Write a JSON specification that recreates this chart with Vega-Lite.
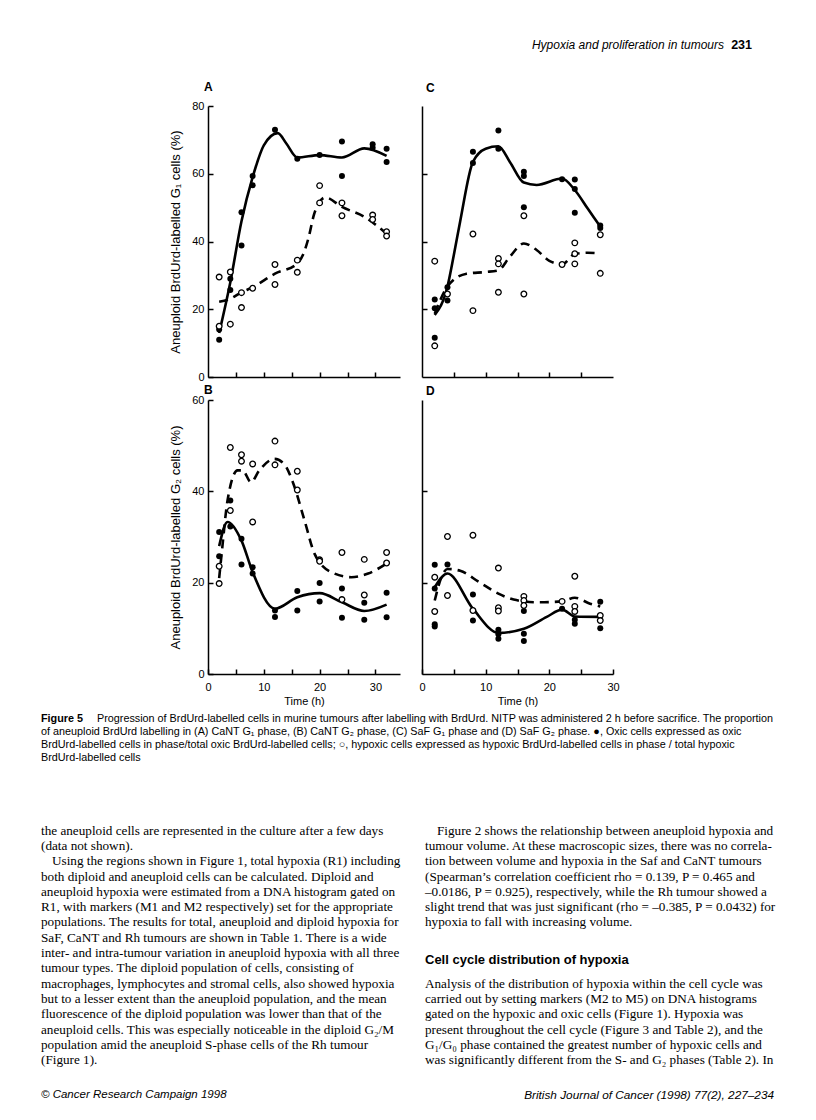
{
  "$schema": "https://vega.github.io/schema/vega-lite/v6.json",
  "background": "white",
  "padding": {"left": 41, "top": 0, "right": 0, "bottom": 0},
  "bounds": "flush",
  "align": "each",
  "columns": 3,
  "spacing": {"row": 0, "column": 22},
  "config": {
    "view": {"stroke": null},
    "font": "Liberation Sans",
    "axis": {
      "domainColor": "black", "tickColor": "black", "labelColor": "black", "titleColor": "black",
      "grid": false, "labelFont": "Liberation Sans", "titleFont": "Liberation Sans",
      "labelFontSize": 11, "titleFontSize": 13, "titleFontWeight": "normal",
      "tickSize": -5, "domainWidth": 1.5, "tickWidth": 1.5, "labelFlush": false
    },
    "axisX": {"labelPadding": 12, "titlePadding": 3, "titleFontSize": 11},
    "axisY": {"labelPadding": 9, "titlePadding": 9},
    "title": {"font": "Liberation Sans", "fontSize": 12, "fontWeight": "bold", "anchor": "start", "frame": "group", "color": "black", "baseline": "bottom", "offset": 6}
  },
  "datasets": {
    "pts": [
      {"p":"A","g":"ox","t":2,"v":11},{"p":"A","g":"ox","t":2,"v":14},{"p":"A","g":"ox","t":4,"v":29},{"p":"A","g":"ox","t":4,"v":25.7},
      {"p":"A","g":"ox","t":6,"v":48.6},{"p":"A","g":"ox","t":6,"v":38.8},{"p":"A","g":"ox","t":8,"v":59.3},{"p":"A","g":"ox","t":8,"v":56.6},
      {"p":"A","g":"ox","t":12,"v":73},{"p":"A","g":"ox","t":16,"v":64.4},{"p":"A","g":"ox","t":20,"v":65.5},{"p":"A","g":"ox","t":24,"v":69.5},
      {"p":"A","g":"ox","t":24,"v":59.3},{"p":"A","g":"ox","t":29.5,"v":68.7},{"p":"A","g":"ox","t":29.5,"v":67.7},{"p":"A","g":"ox","t":32,"v":67.4},
      {"p":"A","g":"ox","t":32,"v":63.5},
      {"p":"A","g":"hy","t":2,"v":15},{"p":"A","g":"hy","t":2,"v":29.5},{"p":"A","g":"hy","t":4,"v":31},{"p":"A","g":"hy","t":4,"v":15.6},
      {"p":"A","g":"hy","t":6,"v":24.9},{"p":"A","g":"hy","t":6,"v":20.5},{"p":"A","g":"hy","t":8,"v":26.2},{"p":"A","g":"hy","t":12,"v":33.2},
      {"p":"A","g":"hy","t":12,"v":27.3},{"p":"A","g":"hy","t":16,"v":34.5},{"p":"A","g":"hy","t":16,"v":30.9},{"p":"A","g":"hy","t":20,"v":56.5},
      {"p":"A","g":"hy","t":20,"v":51.4},{"p":"A","g":"hy","t":24,"v":51.4},{"p":"A","g":"hy","t":24,"v":47.6},{"p":"A","g":"hy","t":29.5,"v":47.8},
      {"p":"A","g":"hy","t":29.5,"v":46.5},{"p":"A","g":"hy","t":32,"v":42.9},{"p":"A","g":"hy","t":32,"v":41.6},

      {"p":"C","g":"ox","t":2,"v":22.9},{"p":"C","g":"ox","t":2,"v":20.3},{"p":"C","g":"ox","t":2,"v":11.6},{"p":"C","g":"ox","t":4,"v":26.5},
      {"p":"C","g":"ox","t":4,"v":22.6},{"p":"C","g":"ox","t":8,"v":66.5},{"p":"C","g":"ox","t":8,"v":63.2},{"p":"C","g":"ox","t":12,"v":72.8},
      {"p":"C","g":"ox","t":12,"v":67.4},{"p":"C","g":"ox","t":16,"v":60.6},{"p":"C","g":"ox","t":16,"v":59.3},{"p":"C","g":"ox","t":16,"v":50.1},
      {"p":"C","g":"ox","t":22,"v":58.4},{"p":"C","g":"ox","t":24,"v":58.3},{"p":"C","g":"ox","t":24,"v":55.5},{"p":"C","g":"ox","t":24,"v":48.5},
      {"p":"C","g":"ox","t":28,"v":44.7},{"p":"C","g":"ox","t":28,"v":44},
      {"p":"C","g":"hy","t":2,"v":34.2},{"p":"C","g":"hy","t":2,"v":9.2},{"p":"C","g":"hy","t":4,"v":24.5},{"p":"C","g":"hy","t":8,"v":42.2},
      {"p":"C","g":"hy","t":8,"v":19.6},{"p":"C","g":"hy","t":12,"v":35},{"p":"C","g":"hy","t":12,"v":33.4},{"p":"C","g":"hy","t":12,"v":25},
      {"p":"C","g":"hy","t":16,"v":47.6},{"p":"C","g":"hy","t":16,"v":24.5},{"p":"C","g":"hy","t":22,"v":33.2},{"p":"C","g":"hy","t":24,"v":39.6},
      {"p":"C","g":"hy","t":24,"v":36.4},{"p":"C","g":"hy","t":24,"v":33.4},{"p":"C","g":"hy","t":28,"v":42},{"p":"C","g":"hy","t":28,"v":30.6},

      {"p":"B","g":"ox","t":2,"v":31.1},{"p":"B","g":"ox","t":2,"v":25.8},{"p":"B","g":"ox","t":4,"v":38},{"p":"B","g":"ox","t":4,"v":32.3},
      {"p":"B","g":"ox","t":6,"v":29.6},{"p":"B","g":"ox","t":6,"v":24},{"p":"B","g":"ox","t":8,"v":23.4},{"p":"B","g":"ox","t":8,"v":22},
      {"p":"B","g":"ox","t":12,"v":13.9},{"p":"B","g":"ox","t":12,"v":12.5},{"p":"B","g":"ox","t":16,"v":18.2},{"p":"B","g":"ox","t":16,"v":13.9},
      {"p":"B","g":"ox","t":20,"v":19.9},{"p":"B","g":"ox","t":20,"v":15.9},{"p":"B","g":"ox","t":24,"v":18.7},{"p":"B","g":"ox","t":24,"v":12.3},
      {"p":"B","g":"ox","t":28,"v":15.6},{"p":"B","g":"ox","t":28,"v":11.9},{"p":"B","g":"ox","t":32,"v":17.8},{"p":"B","g":"ox","t":32,"v":12.4},
      {"p":"B","g":"hy","t":2,"v":23.6},{"p":"B","g":"hy","t":2,"v":19.8},{"p":"B","g":"hy","t":4,"v":49.6},{"p":"B","g":"hy","t":4,"v":35.8},
      {"p":"B","g":"hy","t":6,"v":48},{"p":"B","g":"hy","t":6,"v":46.6},{"p":"B","g":"hy","t":8,"v":46},{"p":"B","g":"hy","t":8,"v":33.3},
      {"p":"B","g":"hy","t":12,"v":51},{"p":"B","g":"hy","t":12,"v":45.8},{"p":"B","g":"hy","t":16,"v":44.4},{"p":"B","g":"hy","t":16,"v":40.3},
      {"p":"B","g":"hy","t":20,"v":25},{"p":"B","g":"hy","t":20,"v":24.7},{"p":"B","g":"hy","t":24,"v":26.6},{"p":"B","g":"hy","t":24,"v":16.3},
      {"p":"B","g":"hy","t":28,"v":25.1},{"p":"B","g":"hy","t":28,"v":17.3},{"p":"B","g":"hy","t":32,"v":26.6},{"p":"B","g":"hy","t":32,"v":24.3},

      {"p":"D","g":"ox","t":2,"v":23.9},{"p":"D","g":"ox","t":2,"v":18.7},{"p":"D","g":"ox","t":2,"v":10.9},{"p":"D","g":"ox","t":2,"v":10.4},
      {"p":"D","g":"ox","t":4,"v":24},{"p":"D","g":"ox","t":8,"v":17.4},{"p":"D","g":"ox","t":8,"v":11.7},{"p":"D","g":"ox","t":12,"v":9.7},
      {"p":"D","g":"ox","t":12,"v":8.7},{"p":"D","g":"ox","t":12,"v":7.7},{"p":"D","g":"ox","t":16,"v":13.8},{"p":"D","g":"ox","t":16,"v":8.8},
      {"p":"D","g":"ox","t":16,"v":7.2},{"p":"D","g":"ox","t":22,"v":14.3},{"p":"D","g":"ox","t":24,"v":11.9},{"p":"D","g":"ox","t":24,"v":11},
      {"p":"D","g":"ox","t":28,"v":15.8},{"p":"D","g":"ox","t":28,"v":10},
      {"p":"D","g":"hy","t":2,"v":21.2},{"p":"D","g":"hy","t":2,"v":13.7},{"p":"D","g":"hy","t":4,"v":30.1},{"p":"D","g":"hy","t":4,"v":17.2},
      {"p":"D","g":"hy","t":8,"v":30.4},{"p":"D","g":"hy","t":8,"v":13.9},{"p":"D","g":"hy","t":12,"v":23.2},{"p":"D","g":"hy","t":12,"v":14.5},
      {"p":"D","g":"hy","t":12,"v":13.8},{"p":"D","g":"hy","t":16,"v":17},{"p":"D","g":"hy","t":16,"v":16.1},{"p":"D","g":"hy","t":16,"v":15},
      {"p":"D","g":"hy","t":22,"v":15.9},{"p":"D","g":"hy","t":24,"v":21.4},{"p":"D","g":"hy","t":24,"v":14.8},{"p":"D","g":"hy","t":24,"v":13.7},
      {"p":"D","g":"hy","t":28,"v":12.8},{"p":"D","g":"hy","t":28,"v":11.7}
    ],
    "curves": [
      {"p":"A","g":"ox","t":2,"v":13},{"p":"A","g":"ox","t":4,"v":28},{"p":"A","g":"ox","t":6,"v":46},{"p":"A","g":"ox","t":8,"v":59},
      {"p":"A","g":"ox","t":10,"v":68.4},{"p":"A","g":"ox","t":12.5,"v":72},{"p":"A","g":"ox","t":14,"v":69},{"p":"A","g":"ox","t":16,"v":64.8},
      {"p":"A","g":"ox","t":20,"v":65.5},{"p":"A","g":"ox","t":24,"v":64.8},{"p":"A","g":"ox","t":28,"v":67.5},{"p":"A","g":"ox","t":32,"v":65.3},
      {"p":"A","g":"hy","t":2,"v":22.2},{"p":"A","g":"hy","t":4,"v":23.1},{"p":"A","g":"hy","t":6,"v":25},{"p":"A","g":"hy","t":8,"v":26.5},
      {"p":"A","g":"hy","t":12,"v":30.5},{"p":"A","g":"hy","t":16,"v":33.5},{"p":"A","g":"hy","t":17,"v":36},{"p":"A","g":"hy","t":18,"v":41},
      {"p":"A","g":"hy","t":19,"v":48},{"p":"A","g":"hy","t":20,"v":51.7},{"p":"A","g":"hy","t":21,"v":53},{"p":"A","g":"hy","t":24,"v":50.2},
      {"p":"A","g":"hy","t":28,"v":47.3},{"p":"A","g":"hy","t":32,"v":42.3},

      {"p":"C","g":"ox","t":2,"v":18.3},{"p":"C","g":"ox","t":4,"v":26.7},{"p":"C","g":"ox","t":5,"v":36},{"p":"C","g":"ox","t":6,"v":46},
      {"p":"C","g":"ox","t":8,"v":63.5},{"p":"C","g":"ox","t":10,"v":67.4},{"p":"C","g":"ox","t":12,"v":68.1},{"p":"C","g":"ox","t":13.8,"v":63.5},
      {"p":"C","g":"ox","t":16,"v":57.4},{"p":"C","g":"ox","t":18,"v":56.7},{"p":"C","g":"ox","t":22,"v":58.6},{"p":"C","g":"ox","t":24,"v":55.2},
      {"p":"C","g":"ox","t":26,"v":49.8},{"p":"C","g":"ox","t":28,"v":44.4},
      {"p":"C","g":"hy","t":2,"v":18.7},{"p":"C","g":"hy","t":4,"v":26.7},{"p":"C","g":"hy","t":7,"v":30.5},{"p":"C","g":"hy","t":10,"v":31},
      {"p":"C","g":"hy","t":12,"v":31.5},{"p":"C","g":"hy","t":13.8,"v":35.5},{"p":"C","g":"hy","t":16,"v":39.4},{"p":"C","g":"hy","t":18,"v":37.5},
      {"p":"C","g":"hy","t":20,"v":34.3},{"p":"C","g":"hy","t":22,"v":33.3},{"p":"C","g":"hy","t":24,"v":36.3},{"p":"C","g":"hy","t":26,"v":36.7},
      {"p":"C","g":"hy","t":28,"v":36.5},

      {"p":"B","g":"ox","t":2,"v":28},{"p":"B","g":"ox","t":3.5,"v":33.3},{"p":"B","g":"ox","t":6,"v":29.2},{"p":"B","g":"ox","t":8,"v":22.3},
      {"p":"B","g":"ox","t":12,"v":14.3},{"p":"B","g":"ox","t":16,"v":16.8},{"p":"B","g":"ox","t":20,"v":17.7},{"p":"B","g":"ox","t":24,"v":15.7},
      {"p":"B","g":"ox","t":28,"v":13.8},{"p":"B","g":"ox","t":32,"v":15.2},
      {"p":"B","g":"hy","t":2,"v":21},{"p":"B","g":"hy","t":2.5,"v":27},{"p":"B","g":"hy","t":3.5,"v":38},{"p":"B","g":"hy","t":5.3,"v":44.6},
      {"p":"B","g":"hy","t":6.2,"v":44.6},{"p":"B","g":"hy","t":7.7,"v":42},{"p":"B","g":"hy","t":9.2,"v":44.6},{"p":"B","g":"hy","t":11.9,"v":47.1},
      {"p":"B","g":"hy","t":13.7,"v":45.9},{"p":"B","g":"hy","t":15.2,"v":42},{"p":"B","g":"hy","t":17.3,"v":33.6},{"p":"B","g":"hy","t":19.1,"v":26.3},
      {"p":"B","g":"hy","t":22.1,"v":22.3},{"p":"B","g":"hy","t":25.7,"v":21.2},{"p":"B","g":"hy","t":28.7,"v":22},{"p":"B","g":"hy","t":32,"v":24.2},

      {"p":"D","g":"ox","t":2,"v":19},{"p":"D","g":"ox","t":4,"v":22},{"p":"D","g":"ox","t":8,"v":14.3},{"p":"D","g":"ox","t":12,"v":9},
      {"p":"D","g":"ox","t":16,"v":9.9},{"p":"D","g":"ox","t":19.6,"v":12.5},{"p":"D","g":"ox","t":22,"v":14.1},{"p":"D","g":"ox","t":24,"v":12.6},
      {"p":"D","g":"ox","t":28,"v":12.5},
      {"p":"D","g":"hy","t":2,"v":16.1},{"p":"D","g":"hy","t":3,"v":21},{"p":"D","g":"hy","t":4,"v":23},{"p":"D","g":"hy","t":6,"v":22.6},
      {"p":"D","g":"hy","t":9,"v":20.1},{"p":"D","g":"hy","t":12,"v":17.6},{"p":"D","g":"hy","t":14.4,"v":16.3},{"p":"D","g":"hy","t":18,"v":15.7},
      {"p":"D","g":"hy","t":22,"v":15.9},{"p":"D","g":"hy","t":24,"v":16.7},{"p":"D","g":"hy","t":26.4,"v":15.4},{"p":"D","g":"hy","t":28,"v":14.8}
    ]
  },
  "concat": [
    {"width": 145, "height": 106, "data": {"values": []}, "mark": "point", "encoding": {}},
    {"width": 1, "height": 1, "data": {"values": []}, "mark": "point", "encoding": {}},
    {
      "width": 330, "height": 106,
      "layer": [
        {
          "data": {"values": [{"text": "231"}]},
          "mark": {"type": "text", "align": "right", "baseline": "middle", "fontWeight": "bold", "fontSize": 12.5, "dy": -8, "color": "black", "font": "Liberation Sans"},
          "encoding": {"text": {"field": "text"}, "x": {"datum": 1, "type": "quantitative", "scale": {"domain": [0, 1]}, "axis": null}}
        },
        {
          "data": {"values": [{"text": "Hypoxia and proliferation in tumours"}]},
          "mark": {"type": "text", "align": "right", "baseline": "middle", "fontStyle": "italic", "fontSize": 12, "dx": -28, "dy": -8, "color": "black", "font": "Liberation Sans"},
          "encoding": {"text": {"field": "text"}, "x": {"datum": 1, "type": "quantitative", "scale": {"domain": [0, 1]}, "axis": null}}
        }
      ]
    },

    {"width": 145, "height": 271, "data": {"values": []}, "mark": "point", "encoding": {}},
    {
      "width": 192, "height": 271,
      "title": {"text": "A", "dx": -4},
      "encoding": {
        "x": {"field": "t", "type": "quantitative", "scale": {"domain": [0, 34.4], "nice": false, "zero": false}, "axis": {"values": [5, 10, 15, 20, 25, 30], "labels": false, "title": null}},
        "y": {"field": "v", "type": "quantitative", "scale": {"domain": [0, 80], "nice": false}, "axis": {"values": [0, 20, 40, 60, 80], "title": "Aneuploid BrdUrd-labelled G\u2081 cells (%)"}}
      },
      "layer": [
        {"data": {"name": "curves"}, "transform": [{"filter": "datum.p === 'A' && datum.g === 'ox'"}], "mark": {"type": "line", "interpolate": "monotone", "color": "black", "strokeWidth": 2.6}},
        {"data": {"name": "curves"}, "transform": [{"filter": "datum.p === 'A' && datum.g === 'hy'"}], "mark": {"type": "line", "interpolate": "monotone", "color": "black", "strokeWidth": 2.6, "strokeDash": [9, 6]}},
        {"data": {"name": "pts"}, "transform": [{"filter": "datum.p === 'A' && datum.g === 'ox'"}], "mark": {"type": "point", "shape": "circle", "filled": true, "color": "black", "size": 36, "opacity": 1}},
        {"data": {"name": "pts"}, "transform": [{"filter": "datum.p === 'A' && datum.g === 'hy'"}], "mark": {"type": "point", "shape": "circle", "filled": true, "fill": "white", "stroke": "black", "strokeWidth": 1.3, "size": 32, "opacity": 1}},
        {"data": {"values": [{"label": "CaNT"}]}, "mark": {"type": "text", "align": "right", "baseline": "middle", "fontSize": 11, "color": "black"}, "encoding": {"text": {"field": "label"}, "x": {"datum": 32.5}, "y": {"datum": 4.4}}}
      ]
    },
    {
      "width": 191, "height": 271,
      "title": {"text": "C", "dx": 4, "offset": 11},
      "encoding": {
        "x": {"field": "t", "type": "quantitative", "scale": {"domain": [0, 30], "nice": false, "zero": false}, "axis": {"values": [5, 10, 15, 20, 25], "labels": false, "title": null}},
        "y": {"field": "v", "type": "quantitative", "scale": {"domain": [0, 80], "nice": false}, "axis": {"values": [20, 40, 60], "labels": false, "title": null}}
      },
      "layer": [
        {"data": {"name": "curves"}, "transform": [{"filter": "datum.p === 'C' && datum.g === 'ox'"}], "mark": {"type": "line", "interpolate": "monotone", "color": "black", "strokeWidth": 2.6}},
        {"data": {"name": "curves"}, "transform": [{"filter": "datum.p === 'C' && datum.g === 'hy'"}], "mark": {"type": "line", "interpolate": "monotone", "color": "black", "strokeWidth": 2.6, "strokeDash": [9, 6]}},
        {"data": {"name": "pts"}, "transform": [{"filter": "datum.p === 'C' && datum.g === 'ox'"}], "mark": {"type": "point", "shape": "circle", "filled": true, "color": "black", "size": 36, "opacity": 1}},
        {"data": {"name": "pts"}, "transform": [{"filter": "datum.p === 'C' && datum.g === 'hy'"}], "mark": {"type": "point", "shape": "circle", "filled": true, "fill": "white", "stroke": "black", "strokeWidth": 1.3, "size": 32, "opacity": 1}},
        {"data": {"values": [{"label": "SaF"}]}, "mark": {"type": "text", "align": "right", "baseline": "middle", "fontSize": 11, "color": "black"}, "encoding": {"text": {"field": "label"}, "x": {"datum": 28.6}, "y": {"datum": 4.4}}}
      ]
    },

    {"width": 145, "height": 23, "data": {"values": []}, "mark": "point", "encoding": {}},
    {"width": 1, "height": 1, "data": {"values": []}, "mark": "point", "encoding": {}},
    {"width": 1, "height": 1, "data": {"values": []}, "mark": "point", "encoding": {}},

    {"width": 145, "height": 274, "data": {"values": []}, "mark": "point", "encoding": {}},
    {
      "width": 192, "height": 274,
      "title": {"text": "B", "dx": -4, "offset": -3},
      "encoding": {
        "x": {"field": "t", "type": "quantitative", "scale": {"domain": [0, 34.4], "nice": false, "zero": false}, "axis": {"values": [0, 5, 10, 15, 20, 25, 30], "labelExpr": "datum.value % 10 === 0 ? datum.label : ''", "title": "Time (h)"}},
        "y": {"field": "v", "type": "quantitative", "scale": {"domain": [0, 60], "nice": false}, "axis": {"values": [0, 20, 40, 60], "title": "Aneuploid BrdUrd-labelled G\u2082 cells (%)"}}
      },
      "layer": [
        {"data": {"name": "curves"}, "transform": [{"filter": "datum.p === 'B' && datum.g === 'ox'"}], "mark": {"type": "line", "interpolate": "monotone", "color": "black", "strokeWidth": 2.6}},
        {"data": {"name": "curves"}, "transform": [{"filter": "datum.p === 'B' && datum.g === 'hy'"}], "mark": {"type": "line", "interpolate": "monotone", "color": "black", "strokeWidth": 2.6, "strokeDash": [9, 6]}},
        {"data": {"name": "pts"}, "transform": [{"filter": "datum.p === 'B' && datum.g === 'ox'"}], "mark": {"type": "point", "shape": "circle", "filled": true, "color": "black", "size": 36, "opacity": 1}},
        {"data": {"name": "pts"}, "transform": [{"filter": "datum.p === 'B' && datum.g === 'hy'"}], "mark": {"type": "point", "shape": "circle", "filled": true, "fill": "white", "stroke": "black", "strokeWidth": 1.3, "size": 32, "opacity": 1}},
        {"data": {"values": [{"label": "CaNT"}]}, "mark": {"type": "text", "align": "right", "baseline": "middle", "fontSize": 11, "color": "black"}, "encoding": {"text": {"field": "label"}, "x": {"datum": 32.5}, "y": {"datum": 58.8}}}
      ]
    },
    {
      "width": 191, "height": 274,
      "title": {"text": "D", "dx": 4, "offset": 2},
      "encoding": {
        "x": {"field": "t", "type": "quantitative", "scale": {"domain": [0, 30], "nice": false, "zero": false}, "axis": {"values": [0, 5, 10, 15, 20, 25, 30], "labelExpr": "datum.value % 10 === 0 ? datum.label : ''", "title": "Time (h)"}},
        "y": {"field": "v", "type": "quantitative", "scale": {"domain": [0, 60], "nice": false}, "axis": {"values": [20, 40], "labels": false, "title": null}}
      },
      "layer": [
        {"data": {"name": "curves"}, "transform": [{"filter": "datum.p === 'D' && datum.g === 'ox'"}], "mark": {"type": "line", "interpolate": "monotone", "color": "black", "strokeWidth": 2.6}},
        {"data": {"name": "curves"}, "transform": [{"filter": "datum.p === 'D' && datum.g === 'hy'"}], "mark": {"type": "line", "interpolate": "monotone", "color": "black", "strokeWidth": 2.6, "strokeDash": [9, 6]}},
        {"data": {"name": "pts"}, "transform": [{"filter": "datum.p === 'D' && datum.g === 'ox'"}], "mark": {"type": "point", "shape": "circle", "filled": true, "color": "black", "size": 36, "opacity": 1}},
        {"data": {"name": "pts"}, "transform": [{"filter": "datum.p === 'D' && datum.g === 'hy'"}], "mark": {"type": "point", "shape": "circle", "filled": true, "fill": "white", "stroke": "black", "strokeWidth": 1.3, "size": 32, "opacity": 1}},
        {"data": {"values": [{"label": "SaF"}]}, "mark": {"type": "text", "align": "right", "baseline": "middle", "fontSize": 11, "color": "black"}, "encoding": {"text": {"field": "label"}, "x": {"datum": 28.7}, "y": {"datum": 58.8}}}
      ]
    },

    {"width": 145, "height": 37.5, "data": {"values": []}, "mark": "point", "encoding": {}},
    {"width": 1, "height": 1, "data": {"values": []}, "mark": "point", "encoding": {}},
    {"width": 1, "height": 1, "data": {"values": []}, "mark": "point", "encoding": {}},

    {
      "width": 145, "height": 52,
      "encoding": {
        "x": {"datum": 0, "type": "quantitative", "scale": {"domain": [0, 1]}, "axis": null},
        "y": {"field": "line", "type": "quantitative", "scale": {"domain": [0.5, 4.5], "reverse": true, "nice": false, "zero": false}, "axis": null},
        "text": {"field": "text"}
      },
      "layer": [
        {"data": {"values": [{"line": 1, "text": "Figure 5"}]}, "mark": {"type": "text", "align": "left", "baseline": "middle", "fontSize": 10.8, "fontWeight": "bold", "color": "black", "font": "Liberation Sans"}},
        {"data": {"values": [{"line": 1, "text": "Progression of BrdUrd-labelled cells in murine tumours after labelling with BrdUrd. NITP was administered 2 h before sacrifice. The proportion"}]}, "mark": {"type": "text", "align": "left", "baseline": "middle", "fontSize": 10.8, "dx": 56, "color": "black", "font": "Liberation Sans"}},
        {"data": {"values": [
          {"line": 2, "text": "of aneuploid BrdUrd labelling in (A) CaNT G\u2081 phase, (B) CaNT G\u2082 phase, (C) SaF G\u2081 phase and (D) SaF G\u2082 phase. \u25cf, Oxic cells expressed as oxic"},
          {"line": 3, "text": "BrdUrd-labelled cells in phase/total oxic BrdUrd-labelled cells; \u25cb, hypoxic cells expressed as hypoxic BrdUrd-labelled cells in phase / total hypoxic"},
          {"line": 4, "text": "BrdUrd-labelled cells"}
        ]}, "mark": {"type": "text", "align": "left", "baseline": "middle", "fontSize": 10.8, "color": "black", "font": "Liberation Sans"}}
      ]
    },
    {"width": 1, "height": 1, "data": {"values": []}, "mark": "point", "encoding": {}},
    {"width": 1, "height": 1, "data": {"values": []}, "mark": "point", "encoding": {}},

    {"width": 145, "height": 58.85, "data": {"values": []}, "mark": "point", "encoding": {}},
    {"width": 1, "height": 1, "data": {"values": []}, "mark": "point", "encoding": {}},
    {"width": 1, "height": 1, "data": {"values": []}, "mark": "point", "encoding": {}},

    {
      "width": 145, "height": 244.8,
      "encoding": {
        "x": {"datum": 0, "type": "quantitative", "scale": {"domain": [0, 1]}, "axis": null},
        "y": {"field": "line", "type": "quantitative", "scale": {"domain": [0.5, 16.5], "reverse": true, "nice": false, "zero": false}, "axis": null},
        "text": {"field": "text"}
      },
      "layer": [
        {
          "data": {"values": [
            {"line": 1, "text": "the aneuploid cells are represented in the culture after a few days"},
            {"line": 2, "text": "(data not shown)."},
            {"line": 4, "text": "both diploid and aneuploid cells can be calculated. Diploid and"},
            {"line": 5, "text": "aneuploid hypoxia were estimated from a DNA histogram gated on"},
            {"line": 6, "text": "R1, with markers (M1 and M2 respectively) set for the appropriate"},
            {"line": 7, "text": "populations. The results for total, aneuploid and diploid hypoxia for"},
            {"line": 8, "text": "SaF, CaNT and Rh tumours are shown in Table 1. There is a wide"},
            {"line": 9, "text": "inter- and intra-tumour variation in aneuploid hypoxia with all three"},
            {"line": 10, "text": "tumour types. The diploid population of cells, consisting of"},
            {"line": 11, "text": "macrophages, lymphocytes and stromal cells, also showed hypoxia"},
            {"line": 12, "text": "but to a lesser extent than the aneuploid population, and the mean"},
            {"line": 13, "text": "fluorescence of the diploid population was lower than that of the"},
            {"line": 14, "text": "aneuploid cells. This was especially noticeable in the diploid G\u2082/M"},
            {"line": 15, "text": "population amid the aneuploid S-phase cells of the Rh tumour"},
            {"line": 16, "text": "(Figure 1)."}
          ]},
          "mark": {"type": "text", "align": "left", "baseline": "middle", "fontSize": 13.2, "color": "black", "font": "Liberation Serif"}
        },
        {
          "data": {"values": [{"line": 3, "text": "Using the regions shown in Figure 1, total hypoxia (R1) including"}]},
          "mark": {"type": "text", "align": "left", "baseline": "middle", "fontSize": 13.2, "dx": 11, "color": "black", "font": "Liberation Serif"}
        }
      ]
    },
    {"width": 1, "height": 1, "data": {"values": []}, "mark": "point", "encoding": {}},
    {
      "width": 191, "height": 244.8,
      "encoding": {
        "x": {"datum": 0, "type": "quantitative", "scale": {"domain": [0, 1]}, "axis": null},
        "y": {"field": "line", "type": "quantitative", "scale": {"domain": [0.5, 16.5], "reverse": true, "nice": false, "zero": false}, "axis": null},
        "text": {"field": "text"}
      },
      "layer": [
        {
          "data": {"values": [
            {"line": 2, "text": "tumour volume. At these macroscopic sizes, there was no correla-"},
            {"line": 3, "text": "tion between volume and hypoxia in the Saf and CaNT tumours"},
            {"line": 4, "text": "(Spearman\u2019s correlation coefficient rho = 0.139, P = 0.465 and"},
            {"line": 5, "text": "\u20130.0186, P = 0.925), respectively, while the Rh tumour showed a"},
            {"line": 6, "text": "slight trend that was just significant (rho = \u20130.385, P = 0.0432) for"},
            {"line": 7, "text": "hypoxia to fall with increasing volume."},
            {"line": 11, "text": "Analysis of the distribution of hypoxia within the cell cycle was"},
            {"line": 12, "text": "carried out by setting markers (M2 to M5) on DNA histograms"},
            {"line": 13, "text": "gated on the hypoxic and oxic cells (Figure 1). Hypoxia was"},
            {"line": 14, "text": "present throughout the cell cycle (Figure 3 and Table 2), and the"},
            {"line": 15, "text": "G\u2081/G\u2080 phase contained the greatest number of hypoxic cells and"},
            {"line": 16, "text": "was significantly different from the S- and G\u2082 phases (Table 2). In"}
          ]},
          "mark": {"type": "text", "align": "left", "baseline": "middle", "fontSize": 13.2, "dx": 3, "color": "black", "font": "Liberation Serif"}
        },
        {
          "data": {"values": [{"line": 1, "text": "Figure 2 shows the relationship between aneuploid hypoxia and"}]},
          "mark": {"type": "text", "align": "left", "baseline": "middle", "fontSize": 13.2, "dx": 15, "color": "black", "font": "Liberation Serif"}
        },
        {
          "data": {"values": [{"line": 9.45, "text": "Cell cycle distribution of hypoxia"}]},
          "mark": {"type": "text", "align": "left", "baseline": "middle", "fontSize": 13, "fontWeight": "bold", "dx": 3, "color": "black", "font": "Liberation Sans"}
        }
      ]
    },

    {"width": 145, "height": 16.85, "data": {"values": []}, "mark": "point", "encoding": {}},
    {"width": 1, "height": 1, "data": {"values": []}, "mark": "point", "encoding": {}},
    {"width": 1, "height": 1, "data": {"values": []}, "mark": "point", "encoding": {}},

    {
      "width": 145, "height": 20,
      "data": {"values": [{"text": "\u00a9 Cancer Research Campaign 1998"}]},
      "mark": {"type": "text", "align": "left", "baseline": "middle", "fontStyle": "italic", "fontSize": 11.5, "color": "black", "font": "Liberation Sans"},
      "encoding": {"text": {"field": "text"}, "x": {"datum": 0, "type": "quantitative", "scale": {"domain": [0, 1]}, "axis": null}}
    },
    {"width": 1, "height": 1, "data": {"values": []}, "mark": "point", "encoding": {}},
    {
      "width": 352, "height": 20,
      "data": {"values": [{"text": "British Journal of Cancer (1998) 77(2), 227\u2013234"}]},
      "mark": {"type": "text", "align": "right", "baseline": "middle", "fontStyle": "italic", "fontSize": 11.8, "color": "black", "font": "Liberation Sans"},
      "encoding": {"text": {"field": "text"}, "x": {"datum": 1, "type": "quantitative", "scale": {"domain": [0, 1]}, "axis": null}}
    }
  ]
}
